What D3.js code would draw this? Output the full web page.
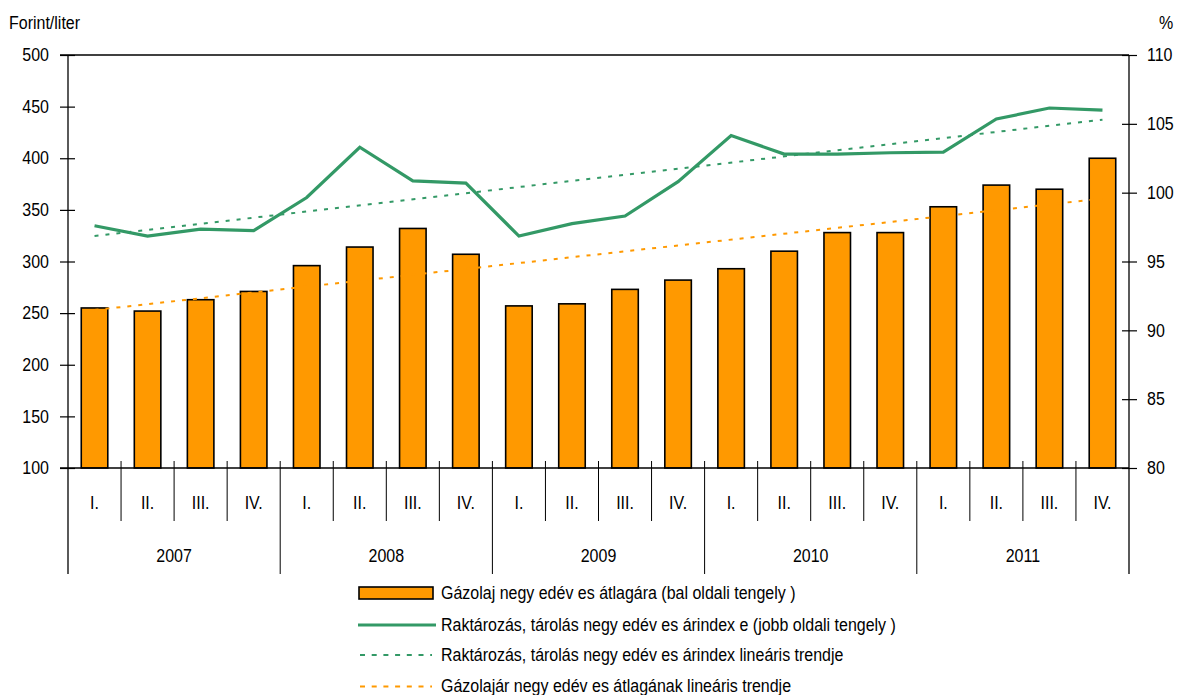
<!DOCTYPE html>
<html>
<head>
<meta charset="utf-8">
<script src="https://cdn.jsdelivr.net/npm/d3@7"></script>
<style>
  html, body { margin: 0; padding: 0; background: #fff; }
  svg { display: block; }
  text { font-family: "Liberation Sans", Arial, sans-serif; font-size: 16px; fill: #000; }
</style>
</head>
<body>
<svg id="chart" width="1178" height="695"></svg>
<script>
// ---- data ----
const quarters = ["I.", "II.", "III.", "IV."];
const years = ["2007", "2008", "2009", "2010", "2011"];
const dieselPrice = [255, 252, 263, 271, 296, 314, 332, 307, 257, 259,
                     273, 282, 293, 310, 328, 328, 353, 374, 370, 400];
const storageIndex = [97.6, 96.85, 97.35, 97.25, 99.65, 103.3, 100.85, 100.7, 96.85, 97.75,
                      98.3, 100.8, 104.15, 102.8, 102.8, 102.9, 102.95, 105.35, 106.15, 106.0];
const storageTrend = [96.85, 105.3];   // first and last quarter of the linear trend
const dieselTrend = [253, 361];        // first and last quarter of the linear trend
const leftTicks = [100, 150, 200, 250, 300, 350, 400, 450, 500];
const rightTicks = [80, 85, 90, 95, 100, 105, 110];
const legendLabels = [
  "Gázolaj negy edév es átlagára (bal oldali tengely )",
  "Raktározás, tárolás negy edév es árindex e (jobb oldali tengely )",
  "Raktározás, tárolás negy edév es árindex  lineáris trendje",
  "Gázolajár negy edév es átlagának lineáris trendje"
];
const leftUnit = "Forint/liter";
const rightUnit = "%";

// ---- layout ----
const ORANGE = "#FF9900", GREEN = "#339966";
const X0 = 68, X1 = 1129, YT = 55, YB = 468;
const SY = 1.12; // vertical text stretch
const svg = d3.select("#chart");

const idx = d3.range(dieselPrice.length);
const x = d3.scaleBand().domain(idx).range([X0, X1]).paddingInner(0.5).paddingOuter(0.25);
const step = x.step();
const bx = i => X0 + i * step;            // band boundary
const cx = i => x(i) + x.bandwidth() / 2;  // band center
const yL = d3.scaleLinear().domain([100, 500]).range([YB, YT]);
const yR = d3.scaleLinear().domain([80, 110]).range([YB, YT]);

function label(g, tx, ty, str, anchor) {
  return g.append("g").attr("transform", `translate(${tx},${ty})`)
    .append("text").attr("transform", `scale(1,${SY})`)
    .attr("text-anchor", anchor || "start").text(str);
}

// top border
svg.append("line").attr("x1", 60).attr("x2", X1).attr("y1", YT).attr("y2", YT)
  .attr("stroke", "#000").attr("stroke-width", 1.3);

// bars
svg.append("g").selectAll("rect").data(dieselPrice).join("rect")
  .attr("x", (d, i) => x(i)).attr("width", x.bandwidth())
  .attr("y", d => yL(d)).attr("height", d => yL(100) - yL(d))
  .attr("fill", ORANGE).attr("stroke", "#000").attr("stroke-width", 1.6);

// trend lines
const trendX = [cx(0), cx(idx.length - 1)];
svg.append("line")
  .attr("x1", trendX[0]).attr("x2", trendX[1])
  .attr("y1", yL(dieselTrend[0])).attr("y2", yL(dieselTrend[1]))
  .attr("stroke", ORANGE).attr("stroke-width", 2).attr("stroke-dasharray", "4,7");
svg.append("line")
  .attr("x1", trendX[0]).attr("x2", trendX[1])
  .attr("y1", yR(storageTrend[0])).attr("y2", yR(storageTrend[1]))
  .attr("stroke", GREEN).attr("stroke-width", 2).attr("stroke-dasharray", "4,7");

// index line
svg.append("path").datum(storageIndex)
  .attr("d", d3.line().x((d, i) => cx(i)).y(d => yR(d)))
  .attr("fill", "none").attr("stroke", GREEN).attr("stroke-width", 3.2)
  .attr("stroke-linejoin", "miter");

// left axis
svg.append("g").attr("transform", `translate(${X0},0)`)
  .call(d3.axisLeft(yL).tickValues(leftTicks).tickSize(8).tickSizeOuter(0))
  .call(g => g.select(".domain").remove())
  .call(g => g.selectAll(".tick line").attr("x1", 7).attr("x2", -8).attr("stroke-width", 1.2))
  .call(g => g.selectAll(".tick text").attr("x", -19).attr("transform", `scale(1,${SY})`)
    .attr("font-family", null).attr("font-size", null).style("font-size", "16px"));
svg.append("line").attr("x1", X0).attr("x2", X0).attr("y1", YT).attr("y2", 574)
  .attr("stroke", "#000").attr("stroke-width", 1.3);

// right axis
svg.append("g").attr("transform", `translate(${X1},0)`)
  .call(d3.axisRight(yR).tickValues(rightTicks).tickSize(8).tickSizeOuter(0))
  .call(g => g.select(".domain").remove())
  .call(g => g.selectAll(".tick line").attr("x1", -7).attr("x2", 8).attr("stroke-width", 1.2))
  .call(g => g.selectAll(".tick text").attr("x", 18).attr("transform", `scale(1,${SY})`)
    .attr("font-family", null).attr("font-size", null).style("font-size", "16px"));
svg.append("line").attr("x1", X1).attr("x2", X1).attr("y1", YT).attr("y2", 574)
  .attr("stroke", "#000").attr("stroke-width", 1.3);

// x axis baseline
svg.append("line").attr("x1", 60).attr("x2", X1).attr("y1", YB).attr("y2", YB)
  .attr("stroke", "#000").attr("stroke-width", 1.3);

// category separators
const xa = svg.append("g");
d3.range(1, idx.length).forEach(i => {
  const isYear = i % 4 === 0;
  xa.append("line").attr("x1", bx(i)).attr("x2", bx(i))
    .attr("y1", 461).attr("y2", isYear ? 574 : 521)
    .attr("stroke", "#000").attr("stroke-width", 1);
});
idx.forEach(i => label(xa, cx(i), 509, quarters[i % 4], "middle"));
years.forEach((yr, k) => label(xa, (bx(k * 4) + bx(k * 4 + 4)) / 2, 562, yr, "middle"));

// units
label(svg, 9, 29, leftUnit, "start");
label(svg, 1159, 29, rightUnit, "start");

// legend
const lg = svg.append("g");
lg.append("rect").attr("x", 359).attr("y", 587).attr("width", 74).attr("height", 12)
  .attr("fill", ORANGE).attr("stroke", "#000").attr("stroke-width", 1.6);
lg.append("line").attr("x1", 358).attr("x2", 436).attr("y1", 625).attr("y2", 625)
  .attr("stroke", GREEN).attr("stroke-width", 3.2);
lg.append("line").attr("x1", 360).attr("x2", 432).attr("y1", 655).attr("y2", 655)
  .attr("stroke", GREEN).attr("stroke-width", 2).attr("stroke-dasharray", "5,6.7");
lg.append("line").attr("x1", 360).attr("x2", 432).attr("y1", 686.5).attr("y2", 686.5)
  .attr("stroke", ORANGE).attr("stroke-width", 2).attr("stroke-dasharray", "5,6.7");
const legY = [599, 630.5, 661, 691.5];
legendLabels.forEach((t, i) => label(lg, 441, legY[i], t, "start"));
</script>
</body>
</html>
